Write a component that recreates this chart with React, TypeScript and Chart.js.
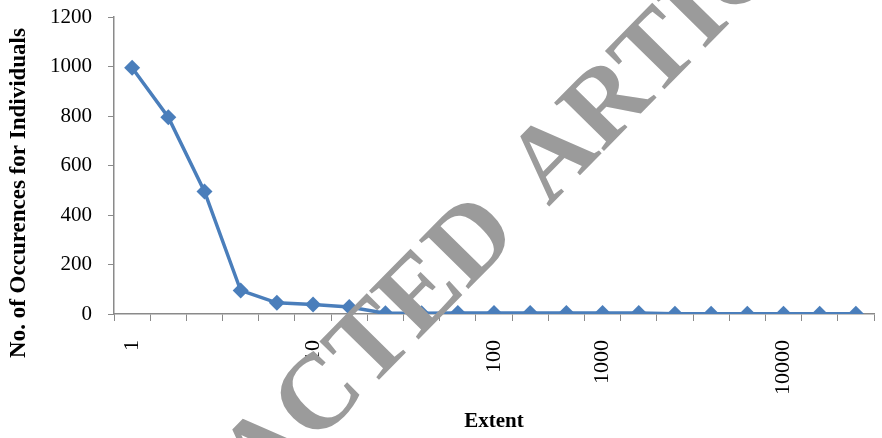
import React, { useEffect, useRef } from "react";
import { Chart, registerables } from "chart.js";

Chart.register(...registerables);

// ---- data ----
const categories: string[] = [
  "1", "", "", "", "", "10", "", "", "", "", "100", "", "", "1000", "", "", "", "", "10000", "", "",
];
const occurrences: number[] = [
  995, 795, 495, 95, 45, 38, 28, 3, 3, 4, 4, 4, 4, 4, 4, 1, 1, 1, 1, 1, 1,
];
const yMin = 0;
const yMax = 1200;
const yStep = 200;
const xTitle = "Extent";
const yTitle = "No. of Occurences for Individuals";
const watermarkWords: string[] = ["RETRACTED", "ARTICLE"];

const SERIF = "'Liberation Serif', 'Times New Roman', serif";
const AXIS_GRAY = "#8a8a8a";
const BLUE = "#4a7ebb";

const yTitlePlugin = {
  id: "yTitlePlugin",
  afterDraw(chart: any) {
    const ctx = chart.ctx as CanvasRenderingContext2D;
    ctx.save();
    ctx.translate(19, 193);
    ctx.rotate(-Math.PI / 2);
    ctx.font = `bold 23px ${SERIF}`;
    ctx.fillStyle = "#000";
    ctx.textAlign = "center";
    ctx.textBaseline = "middle";
    ctx.fillText(yTitle, 0, 0);
    ctx.restore();
  },
};

const watermarkPlugin = {
  id: "watermarkPlugin",
  afterDraw(chart: any) {
    const ctx = chart.ctx as CanvasRenderingContext2D;
    ctx.save();
    const size = 106;
    ctx.font = `bold ${size}px ${SERIF}`;
    ctx.fillStyle = "#9b9b9b";
    ctx.textAlign = "left";
    ctx.textBaseline = "alphabetic";
    const first = watermarkWords[0];
    const second = watermarkWords[1];
    const start = -(ctx.measureText("RETRA").width + ctx.measureText("C").width / 2);
    const firstEnd = start + ctx.measureText(first).width;
    const gap = 40;
    ctx.translate(316, 394);
    ctx.rotate((-45.5 * Math.PI) / 180);
    const base = size * 0.33;
    ctx.fillText(first, start, base);
    ctx.fillText(second, firstEnd + gap, base);
    ctx.restore();
  },
};

const zeroPad = (s: any) => {
  s.paddingLeft = 0;
  s.paddingRight = 0;
  s.paddingTop = 0;
  s.paddingBottom = 0;
};

export default function App() {
  const ref = useRef<HTMLCanvasElement | null>(null);

  useEffect(() => {
    if (!ref.current) return;
    Chart.defaults.font.family = SERIF;
    Chart.defaults.color = "#000";
    const chart = new Chart(ref.current, {
      type: "line",
      data: {
        labels: categories,
        datasets: [
          {
            label: "Occurences",
            data: occurrences,
            borderColor: BLUE,
            backgroundColor: BLUE,
            borderWidth: 3.5,
            pointStyle: "rectRot",
            pointRadius: 8,
            pointBorderWidth: 0,
            pointBackgroundColor: BLUE,
            tension: 0,
          },
        ],
      },
      options: {
        animation: false,
        responsive: false,
        maintainAspectRatio: false,
        layout: { padding: { top: 17, right: 4, left: 0, bottom: 0 } },
        plugins: {
          legend: { display: false },
          tooltip: { enabled: false },
        },
        scales: {
          x: {
            type: "category",
            offset: true,
            grid: {
              display: true,
              drawOnChartArea: false,
              drawTicks: true,
              tickLength: 7,
              color: AXIS_GRAY,
              offset: true,
            },
            border: { display: true, color: AXIS_GRAY, width: 1.5 },
            ticks: {
              autoSkip: false,
              minRotation: 90,
              maxRotation: 90,
              padding: 19,
              color: "#000",
              font: { size: 22, family: SERIF },
            },
            title: {
              display: true,
              text: xTitle,
              color: "#000",
              font: { size: 21, weight: "bold", family: SERIF },
              padding: { top: 0, bottom: 4 },
            },
            afterFit: (s: any) => {
              s.height = 124;
              zeroPad(s);
            },
          },
          y: {
            min: yMin,
            max: yMax,
            grid: {
              display: true,
              drawOnChartArea: false,
              drawTicks: true,
              tickLength: 6,
              color: AXIS_GRAY,
            },
            border: { display: true, color: AXIS_GRAY, width: 1.5 },
            ticks: {
              stepSize: yStep,
              padding: 16,
              color: "#000",
              font: { size: 21, family: SERIF },
              callback: (v: any) => String(v),
            },
            afterFit: (s: any) => {
              s.width = 114;
              zeroPad(s);
            },
          },
        },
      },
      plugins: [yTitlePlugin, watermarkPlugin],
    });
    return () => chart.destroy();
  }, []);

  return (
    <div style={{ position: "fixed", left: 0, top: 0, width: 882, height: 438, background: "#fff" }}>
      <canvas ref={ref} width={882} height={438} style={{ display: "block", width: 882, height: 438 }} />
    </div>
  );
}
